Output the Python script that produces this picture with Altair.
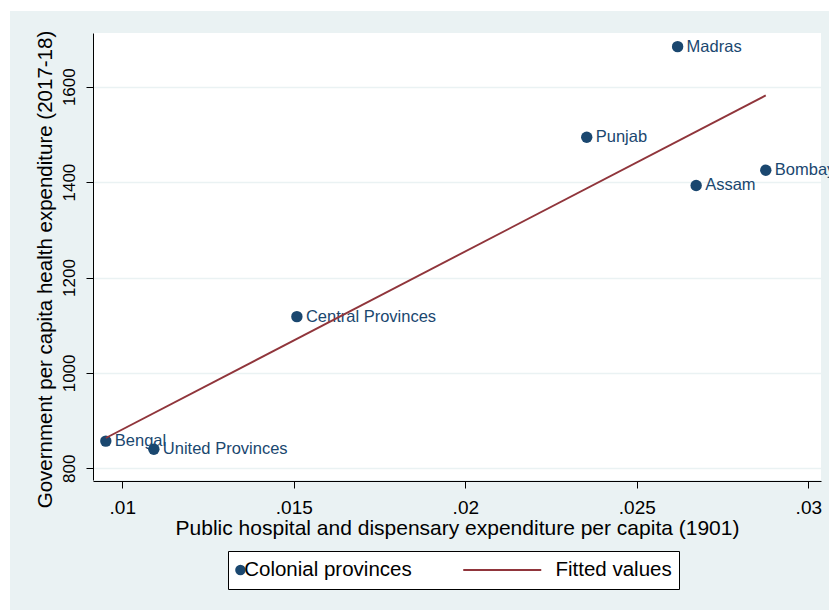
import altair as alt
import pandas as pd

# Provinces and their spending figures
provinces = ["Madras", "Punjab", "Bombay", "Assam", "Central Provinces", "Bengal", "United Provinces"]
hospital_exp_1901 = [0.02619, 0.02354, 0.02876, 0.02673, 0.01509, 0.00952, 0.01092]
health_exp_2017 = [1684, 1494, 1425, 1393, 1118, 857, 840]

series_names = ["Colonial provinces", "Fitted values"]
series_colors = ["#1a476f", "#90353b"]
series_shapes = ["circle", "stroke"]

x_ticks = [0.01, 0.015, 0.02, 0.025, 0.03]
x_tick_labels = [".01", ".015", ".02", ".025", ".03"]
y_ticks = [800, 1000, 1200, 1400, 1600]
x_domain = [0.009146, 0.03037]
y_domain = [775.5, 1712.6]

FONT = "Liberation Sans"
NAVY, MAROON = series_colors
BG = "#eaf2f3"

df = pd.DataFrame({
    "province": provinces,
    "x": hospital_exp_1901,
    "y": health_exp_2017,
    "series": series_names[0],
})

x_label_expr = "".join(
    f"abs(datum.value - {v}) < 1e-9 ? '{l}' : " for v, l in zip(x_ticks, x_tick_labels)
) + "''"

common_axis = dict(
    domainColor="black", domainWidth=1, tickColor="black", tickSize=7, tickWidth=1,
    labelFont=FONT, labelColor="black", titleFont=FONT, titleColor="black",
    titleFontWeight="normal",
)

x_enc = alt.X(
    "x:Q",
    scale=alt.Scale(domain=x_domain, nice=False, zero=False),
    axis=alt.Axis(values=x_ticks, labelExpr=x_label_expr, labelFontSize=19,
                  labelPadding=10, titlePadding=0, titleFontSize=21, grid=False,
                  offset=1, **common_axis),
    title="Public hospital and dispensary expenditure per capita (1901)",
)
y_enc = alt.Y(
    "y:Q",
    scale=alt.Scale(domain=y_domain, nice=False, zero=False),
    axis=alt.Axis(values=y_ticks, format="d", labelAngle=-90, labelAlign="center",
                  labelBaseline="bottom", labelFontSize=17, labelPadding=8,
                  titlePadding=5, titleFontSize=20.5, titleY=236, grid=True,
                  gridColor=BG, gridWidth=1.5, **common_axis),
    title="Government per capita health expenditure (2017-18)",
)

# legend entries: a dot for the provinces, a long maroon stroke for the fit
is_fit = "datum.value === 'Fitted values'"
legend = alt.Legend(
    title=None, orient="none", legendX=135, legendY=518, direction="horizontal",
    strokeColor="black", fillColor="white", padding=7, columnPadding=51, clipHeight=24,
    labelFont=FONT, labelFontSize=20.5, labelColor="black", labelLimit=400,
    symbolSize={"expr": f"{is_fit} ? 6084 : 110"},
    symbolOffset={"expr": f"{is_fit} ? 29 : -4.8"},
    labelOffset={"expr": f"{is_fit} ? 43 : -6.5"},
    symbolStrokeColor=MAROON,
    symbolStrokeWidth={"expr": f"{is_fit} ? 2 : 0"},
)

base = alt.Chart(df)
strip_data = pd.DataFrame({"k": [0]})

# white margin along the top and left edges of the figure
top_strip = alt.Chart(strip_data).mark_rect(color="white").encode(
    x=alt.value(-93), x2=alt.value(740), y=alt.value(-40), y2=alt.value(-22)
)
left_strip = alt.Chart(strip_data).mark_rect(color="white").encode(
    x=alt.value(-93), x2=alt.value(-83), y=alt.value(-40), y2=alt.value(600)
)

points = base.mark_point(filled=True, opacity=1, size=130).encode(
    x=x_enc,
    y=y_enc,
    color=alt.Color("series:N", scale=alt.Scale(domain=series_names, range=series_colors), legend=legend),
    shape=alt.Shape("series:N", scale=alt.Scale(domain=series_names, range=series_shapes), legend=legend),
)

labels = base.mark_text(align="left", baseline="middle", dx=9, fontSize=16.5, font=FONT, color=NAVY).encode(
    x="x:Q", y="y:Q", text="province:N"
)

fit = base.transform_regression("x", "y", method="linear").mark_line(
    color=MAROON, strokeWidth=1.9
).encode(x="x:Q", y="y:Q")

chart = alt.layer(top_strip, left_strip, points, labels, fit).properties(
    width=728,
    height=447,
    autosize=alt.AutoSizeParams(type="none"),
    padding={"left": 93, "top": 33, "right": 8, "bottom": 130},
    background=BG,
).configure_view(fill="white", stroke=None)

chart.save("out.html", embed_options={"renderer": "svg", "actions": False})
